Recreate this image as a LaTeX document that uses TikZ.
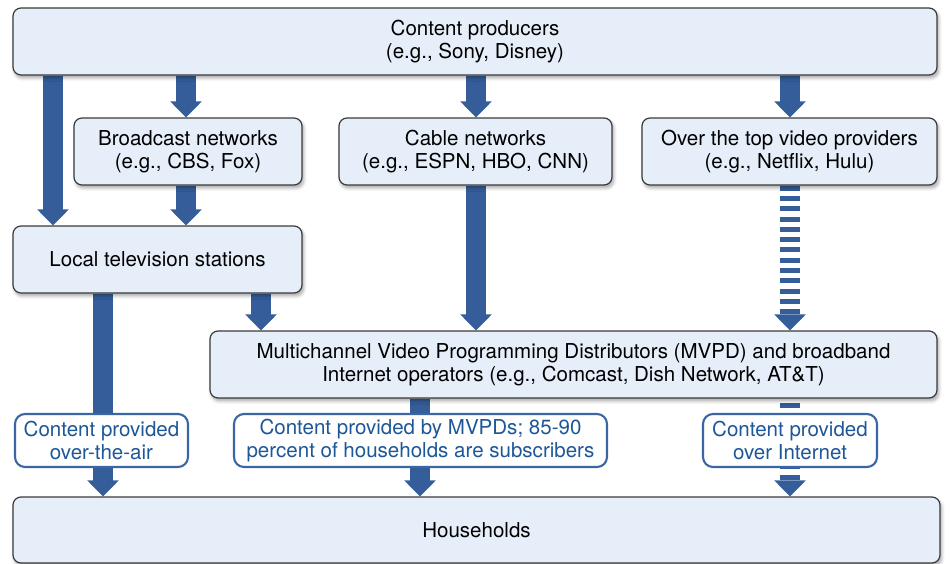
\documentclass[tikz,border=0pt]{standalone}
\usepackage{fontspec}
\setmainfont{TeX Gyre Heros}
\usetikzlibrary{arrows.meta,shadows.blur}
\definecolor{boxfill}{HTML}{E6EFF9}
\definecolor{boxline}{HTML}{3A3A3A}
\definecolor{arrowblue}{HTML}{345D9A}
\definecolor{labelblue}{HTML}{1D5798}
\definecolor{labelline}{HTML}{3B66A4}
\pgfdeclarelayer{background}
\pgfsetlayers{background,main}
\tikzset{
  box/.style={draw=boxline, line width=0.9pt, fill=boxfill, rounded corners=6pt,
    align=center, inner sep=0pt, minimum height=50.25pt,
    blur shadow={shadow blur steps=6, shadow xshift=1.2pt, shadow yshift=-2.2pt, shadow blur radius=2.5pt, shadow opacity=35}},
  lbl/.style={draw=labelline, line width=1.6pt, fill=white, rounded corners=7.5pt,
    align=center, inner sep=0pt, minimum height=39.75pt, text=labelblue},
  bigarrow/.style={draw=arrowblue, line width=15pt,
    -{Triangle[length=12pt,width=23pt]}},
  dasharrow/.style={bigarrow, dash pattern=on 3.75pt off 3.975pt},
}
\begin{document}
\begin{tikzpicture}[x=0.75pt,y=-0.75pt,
  every node/.style={font=\fontsize{15.4pt}{17pt}\selectfont}]
\useasboundingbox (0,0) rectangle (950,564);
% boxes
\node[box, minimum width=693pt] (top) at (475,41.5) {Content producers\\(e.g., Sony, Disney)};
\node[box, minimum width=171pt] (broad) at (188,151.5) {Broadcast networks\\(e.g., CBS, Fox)};
\node[box, minimum width=204.75pt] (cable) at (475.5,151.5) {Cable networks\\(e.g., ESPN, HBO, CNN)};
\node[box, minimum width=221.25pt] (ott) at (789.5,151.5) {Over the top video providers\\(e.g., Netflix, Hulu)};
\node[box, minimum width=216.75pt] (local) at (157.5,259.5) {Local television stations};
\node[box, minimum width=545.25pt] (mvpd) at (573.5,364.5) {Multichannel Video Programming Distributors (MVPD) and broadband\\Internet operators (e.g., Comcast, Dish Network, AT\&T)};
\node[box, minimum width=695.25pt, minimum height=49.5pt] (house) at (476.5,530) {Households};
% x positions of connectors
\coordinate (xa) at (53,0);
\coordinate (xb) at (186,0);
\coordinate (xc) at (476,0);
\coordinate (xd) at (790,0);
\coordinate (xe) at (103,0);
\coordinate (xf) at (261,0);
\coordinate (xg) at (420,0);
\begin{pgfonlayer}{background}
\draw[bigarrow] (top.south -| xa) -- (local.north -| xa);
\draw[bigarrow] (top.south -| xb) -- (broad.north -| xb);
\draw[bigarrow] (broad.south -| xb) -- (local.north -| xb);
\draw[bigarrow] (top.south -| xc) -- (cable.north -| xc);
\draw[bigarrow] (top.south -| xd) -- (ott.north -| xd);
\draw[bigarrow] (cable.south -| xc) -- (mvpd.north -| xc);
\draw[dasharrow] (ott.south -| xd) -- (mvpd.north -| xd);
\draw[bigarrow] (local.south -| xe) -- (house.north -| xe);
\draw[bigarrow] (local.south -| xf) -- (mvpd.north -| xf);
\draw[bigarrow] (mvpd.south -| xg) -- (house.north -| xg);
\draw[dasharrow, dash phase=4.725pt] (mvpd.south -| xd) -- (house.north -| xd);
\end{pgfonlayer}
% labels
\node[lbl, minimum width=129.75pt] (l1) at (101.5,440.5) {Content provided\\over-the-air};
\node[lbl, minimum width=279.75pt] (l2) at (420.5,440.5) {Content provided by MVPDs; 85-90\\percent of households are subscribers};
\node[lbl, minimum width=130.5pt] (l3) at (790,440.5) {Content provided\\over Internet};
\end{tikzpicture}
\end{document}
